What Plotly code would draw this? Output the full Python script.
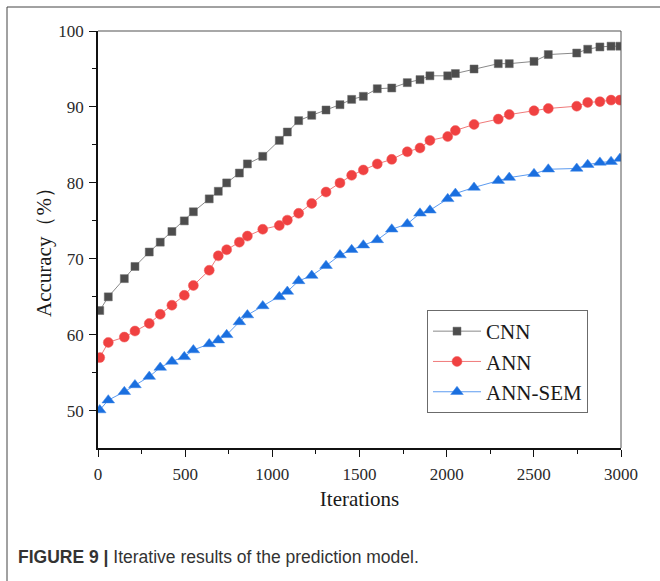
import plotly.graph_objects as go

# ---- data ----
iterations = [10, 59, 151, 212, 294, 357, 424, 495, 547, 638, 690, 738, 811, 857, 945,
              1040, 1086, 1151, 1226, 1308, 1388, 1455, 1522, 1602, 1685, 1774, 1847,
              1904, 2006, 2050, 2157, 2296, 2359, 2501, 2583, 2746, 2809, 2879, 2943, 2994]

cnn = [63.2, 65.0, 67.4, 69.0, 70.9, 72.2, 73.6, 75.0, 76.2, 77.9, 78.9, 80.0, 81.3, 82.5, 83.5,
       85.6, 86.7, 88.2, 88.9, 89.6, 90.3, 91.0, 91.4, 92.4, 92.5, 93.2, 93.6,
       94.1, 94.1, 94.4, 95.0, 95.7, 95.7, 96.0, 96.9, 97.1, 97.6, 97.9, 98.0, 98.0]

ann = [57.0, 59.0, 59.7, 60.5, 61.5, 62.7, 63.9, 65.2, 66.5, 68.5, 70.4, 71.2, 72.2, 73.0, 73.9,
       74.4, 75.1, 76.0, 77.3, 78.8, 80.0, 81.0, 81.7, 82.5, 83.1, 84.1, 84.6,
       85.6, 86.1, 86.9, 87.7, 88.4, 89.0, 89.5, 89.8, 90.1, 90.6, 90.7, 90.9, 90.9]

ann_sem = [50.1, 51.4, 52.5, 53.4, 54.5, 55.7, 56.5, 57.1, 58.0, 58.8, 59.3, 60.0, 61.7, 62.6, 63.8,
           65.0, 65.7, 67.1, 67.8, 69.1, 70.5, 71.2, 71.8, 72.5, 73.9, 74.6, 76.0,
           76.4, 77.9, 78.6, 79.4, 80.3, 80.7, 81.2, 81.8, 81.9, 82.4, 82.7, 82.8, 83.2]

series_names = ["CNN", "ANN", "ANN-SEM"]
x_tickvals = [0, 500, 1000, 1500, 2000, 2500, 3000]
y_tickvals = [50, 60, 70, 80, 90, 100]

SERIF = "Liberation Serif, Times New Roman, serif"

fig = go.Figure()
fig.add_trace(go.Scatter(
    x=iterations, y=cnn, name=series_names[0], mode="lines+markers",
    line=dict(color="#8a8a8a", width=1),
    marker=dict(symbol="square", size=8, color="#4d4d4d",
                line=dict(color="#6a6a6a", width=0.5))))
fig.add_trace(go.Scatter(
    x=iterations, y=ann, name=series_names[1], mode="lines+markers",
    line=dict(color="#f07a7a", width=1),
    marker=dict(symbol="circle", size=10, color="#f04141",
                line=dict(color="#f06060", width=0.5))))
fig.add_trace(go.Scatter(
    x=iterations, y=ann_sem, name=series_names[2], mode="lines+markers",
    line=dict(color="#5c9bf0", width=1),
    marker=dict(symbol="triangle-up", size=11, color="#1a6fdf",
                line=dict(color="#3a85e8", width=0.5))))

# plot area: x 98..621 px, y 31..448 px
L, R, T, B = 98, 621, 31, 448
W, H = 660, 581
pw, ph = R - L, B - T

def px_x(p):
    return (p - L) / pw

def px_y(p):
    return (B - p) / ph

fig.update_layout(
    width=W, height=H,
    margin=dict(l=L, r=W - R, t=T, b=H - B, pad=0),
    paper_bgcolor="white", plot_bgcolor="white",
    font=dict(family=SERIF, color="#222"),
    showlegend=True,
    legend=dict(
        x=px_x(427), y=px_y(310), xanchor="left", yanchor="top",
        bgcolor="white", bordercolor="#6b6b6b", borderwidth=1,
        font=dict(family=SERIF, size=21, color="#1a1a1a"),
        itemwidth=48, tracegroupgap=0,
    ),
    xaxis=dict(
        range=[0, 3000], tickvals=x_tickvals, ticktext=[str(v) for v in x_tickvals],
        showgrid=False, zeroline=False,
        showline=True, linecolor="#111", linewidth=1.5,
        ticks="outside", ticklen=7, tickwidth=1.3, tickcolor="#111",
        minor=dict(dtick=250, ticks="outside", ticklen=4, tickwidth=1.2, tickcolor="#111"),
        tickfont=dict(family=SERIF, size=17, color="#2a2a2a"),
        ticklabelstandoff=3,
        title=dict(text="Iterations", font=dict(family=SERIF, size=21, color="#1a1a1a"),
                   standoff=8),
    ),
    yaxis=dict(
        range=[45.1, 100], tickvals=y_tickvals, ticktext=[str(v) for v in y_tickvals],
        showgrid=False, zeroline=False,
        showline=True, linecolor="#111", linewidth=1.5,
        ticks="outside", ticklen=7, tickwidth=1.3, tickcolor="#111",
        minor=dict(dtick=5, ticks="outside", ticklen=4, tickwidth=1.2, tickcolor="#111"),
        tickfont=dict(family=SERIF, size=17, color="#2a2a2a"),
        ticklabelstandoff=2,
    ),
    shapes=[
        # top and right frame of the plot area
        dict(type="line", xref="paper", yref="paper", x0=0, x1=1, y0=1, y1=1,
             line=dict(color="#a8a8a8", width=2)),
        dict(type="line", xref="paper", yref="paper", x0=1, x1=1, y0=0, y1=1,
             line=dict(color="#555", width=1)),
        # outer figure frame (top and left)
        dict(type="line", xref="paper", yref="paper",
             x0=px_x(7), x1=px_x(700), y0=px_y(7), y1=px_y(7),
             line=dict(color="#444", width=1)),
        dict(type="line", xref="paper", yref="paper",
             x0=px_x(7), x1=px_x(7), y0=px_y(7), y1=px_y(620),
             line=dict(color="#444", width=1)),
    ],
    annotations=[
        dict(text="Accuracy（%）", textangle=-90,
             xref="paper", yref="paper", x=px_x(44), y=px_y(247),
             xanchor="center", yanchor="middle", showarrow=False,
             font=dict(family=SERIF, size=21, color="#1a1a1a")),
        dict(text="<b>FIGURE 9 |</b> Iterative results of the prediction model.",
             xref="paper", yref="paper", x=px_x(16), y=px_y(557),
             xanchor="left", yanchor="middle", showarrow=False,
             font=dict(family="Liberation Sans, Arial, sans-serif", size=17.5, color="#333")),
    ],
)

fig.write_html("out.html", config={"displayModeBar": False},
               post_script="document.body.style.margin='0';")
